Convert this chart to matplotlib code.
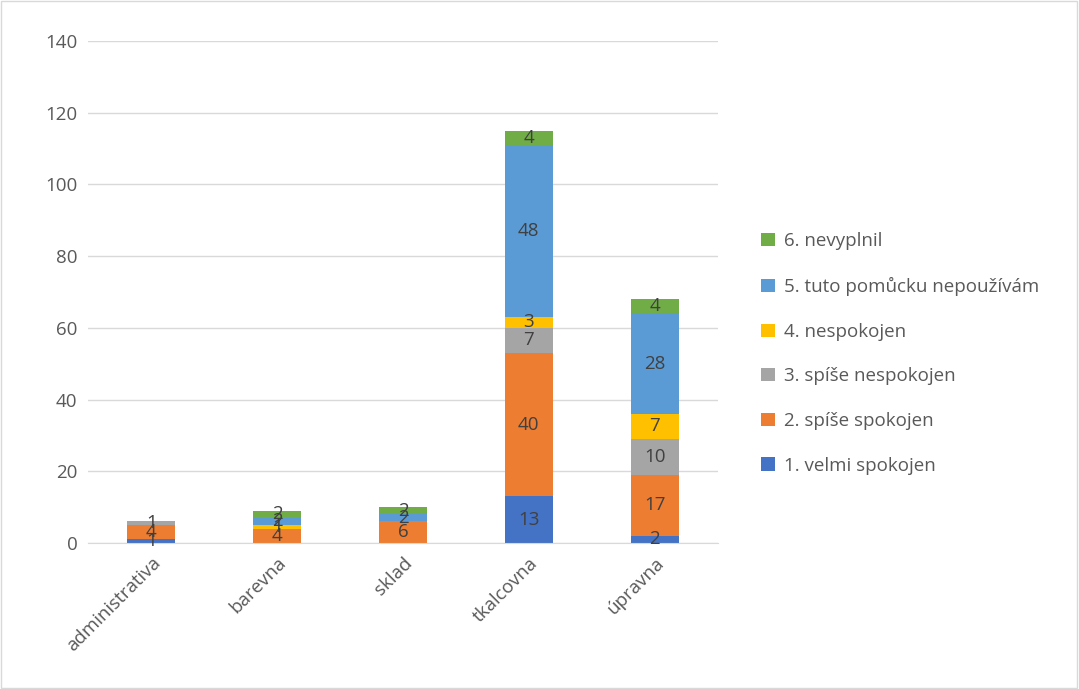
import matplotlib.pyplot as plt
from matplotlib.patches import Rectangle

categories = ["administrativa", "barevna", "sklad", "tkalcovna", "úpravna"]
series_names = ["1. velmi spokojen", "2. spíše spokojen", "3. spíše nespokojen",
                "4. nespokojen", "5. tuto pomůcku nepoužívám", "6. nevyplnil"]
velmi_spokojen = [1, 0, 0, 13, 2]
spise_spokojen = [4, 4, 6, 40, 17]
spise_nespokojen = [1, 0, 0, 7, 10]
nespokojen = [0, 1, 0, 3, 7]
nepouzivam = [0, 2, 2, 48, 28]
nevyplnil = [0, 2, 2, 4, 4]
colors = ["#4472C4", "#ED7D31", "#A5A5A5", "#FFC000", "#5B9BD5", "#70AD47"]

series = [velmi_spokojen, spise_spokojen, spise_nespokojen, nespokojen, nepouzivam, nevyplnil]

plt.rcParams["font.family"] = ["Open Sans", "DejaVu Sans"]
fig = plt.figure(figsize=[10.79, 6.89], dpi=100)
ax = fig.add_axes([0.082, 0.212, 0.583, 0.7285])
fig.patches.append(Rectangle((0.001, 0.001), 0.997, 0.997, transform=fig.transFigure,
                             fill=False, edgecolor="#D9D9D9", linewidth=1))

x = list(range(len(categories)))
bottom = [0] * len(categories)
handles = []
for name, vals, col in zip(series_names, series, colors):
    bars = ax.bar(x, vals, width=0.38, bottom=bottom, color=col, label=name, zorder=2)
    handles.append(bars)
    for xi, v, b in zip(x, vals, bottom):
        if v > 0:
            ax.text(xi, b + v / 2, str(v), ha="center", va="center",
                    fontsize=13.5, color="#404040", zorder=3)
    bottom = [b + v for b, v in zip(bottom, vals)]

ax.set_xlim(-0.5, 4.5)
ax.set_ylim(0, 140)
ax.set_yticks(range(0, 141, 20))
ax.set_xticks(x)
ax.set_xticklabels(categories, rotation=45, ha="right", rotation_mode="anchor")
ax.tick_params(axis="both", length=0, labelsize=13.5, labelcolor="#595959", pad=8)
ax.yaxis.grid(True, color="#D9D9D9", linewidth=1, zorder=0)
ax.set_axisbelow(True)
for side in ["top", "right", "left"]:
    ax.spines[side].set_visible(False)
ax.spines["bottom"].set_color("#D9D9D9")

leg = fig.legend(handles[::-1], series_names[::-1], loc="center left",
                 bbox_to_anchor=(0.69, 0.487), frameon=False, fontsize=13.5,
                 labelspacing=1.42, handlelength=0.7, handleheight=0.7, handletextpad=0.5)
for t in leg.get_texts():
    t.set_color("#595959")

fig.savefig("out.png", dpi=100)
